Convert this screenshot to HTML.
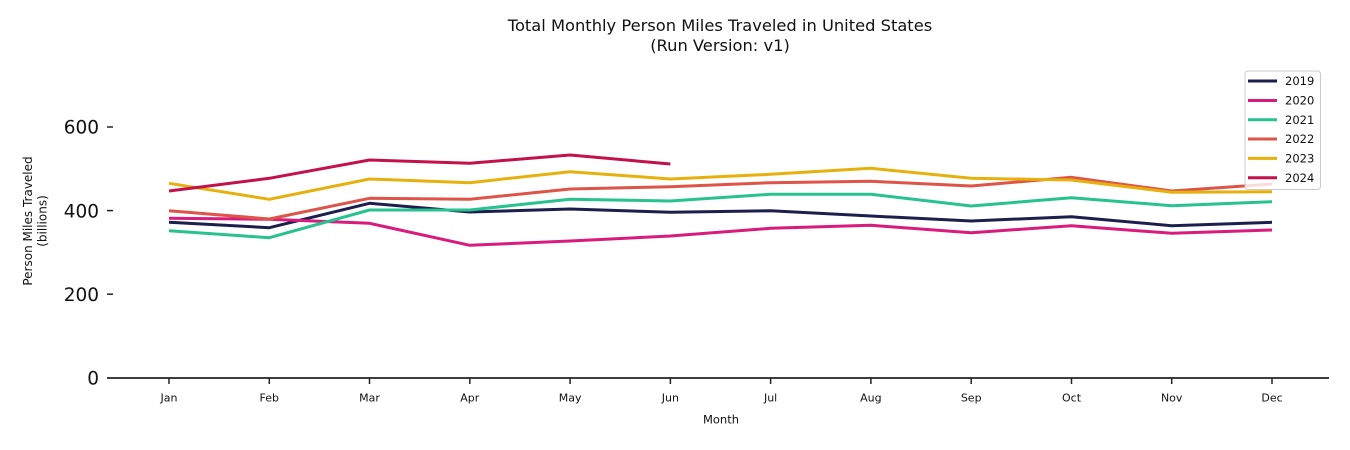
<!DOCTYPE html>
<html>
<head>
<meta charset="utf-8">
<style>
  html, body { margin: 0; padding: 0; background: #ffffff; }
  svg { display: block; }
  text { font-family: "DejaVu Sans", "Liberation Sans", sans-serif; fill: #111; }
</style>
</head>
<body>
<svg width="1350" height="450" viewBox="0 0 1350 450" xmlns="http://www.w3.org/2000/svg">
  <rect x="0" y="0" width="1350" height="450" fill="#ffffff"/>

  <!-- Title -->
  <text x="720" y="31" font-size="16.3" text-anchor="middle">Total Monthly Person Miles Traveled in United States</text>
  <text x="720" y="51" font-size="16.3" text-anchor="middle">(Run Version: v1)</text>

  <!-- Y axis label -->
  <g transform="translate(32,221) rotate(-90)">
    <text x="0" y="0" font-size="12" text-anchor="middle">Person Miles Traveled</text>
  </g>
  <g transform="translate(46.5,221) rotate(-90)">
    <text x="0" y="0" font-size="12" text-anchor="middle">(billions)</text>
  </g>

  <!-- Y ticks -->
  <g stroke="#222" stroke-width="1.5">
    <line x1="107" y1="127" x2="113" y2="127"/>
    <line x1="107" y1="210.6" x2="113" y2="210.6"/>
    <line x1="107" y1="294.2" x2="113" y2="294.2"/>
  </g>
  <g font-size="18.5" text-anchor="end">
    <text x="99" y="133.7">600</text>
    <text x="99" y="217.3">400</text>
    <text x="99" y="300.9">200</text>
    <text x="99" y="384.4">0</text>
  </g>

  <!-- X axis -->
  <line x1="107" y1="378" x2="1329" y2="378" stroke="#222" stroke-width="1.7"/>
  <g stroke="#222" stroke-width="1.5">
    <line x1="169" y1="378" x2="169" y2="384"/>
    <line x1="269.3" y1="378" x2="269.3" y2="384"/>
    <line x1="369.5" y1="378" x2="369.5" y2="384"/>
    <line x1="469.8" y1="378" x2="469.8" y2="384"/>
    <line x1="570.1" y1="378" x2="570.1" y2="384"/>
    <line x1="670.4" y1="378" x2="670.4" y2="384"/>
    <line x1="770.6" y1="378" x2="770.6" y2="384"/>
    <line x1="870.9" y1="378" x2="870.9" y2="384"/>
    <line x1="971.2" y1="378" x2="971.2" y2="384"/>
    <line x1="1071.5" y1="378" x2="1071.5" y2="384"/>
    <line x1="1171.7" y1="378" x2="1171.7" y2="384"/>
    <line x1="1272" y1="378" x2="1272" y2="384"/>
  </g>
  <g font-size="11" text-anchor="middle">
    <text x="169" y="401.5">Jan</text>
    <text x="269.3" y="401.5">Feb</text>
    <text x="369.5" y="401.5">Mar</text>
    <text x="469.8" y="401.5">Apr</text>
    <text x="570.1" y="401.5">May</text>
    <text x="670.4" y="401.5">Jun</text>
    <text x="770.6" y="401.5">Jul</text>
    <text x="870.9" y="401.5">Aug</text>
    <text x="971.2" y="401.5">Sep</text>
    <text x="1071.5" y="401.5">Oct</text>
    <text x="1171.7" y="401.5">Nov</text>
    <text x="1272" y="401.5">Dec</text>
  </g>
  <text x="721" y="423.5" font-size="11.5" text-anchor="middle">Month</text>

  <!-- Series -->
  <g fill="none" stroke-width="3" stroke-linejoin="round" stroke-linecap="butt">
    <polyline stroke="#1c1f4e" points="169,222.3 269.3,227.7 369.5,203.3 469.8,212 570.1,209 670.4,212.3 770.6,210.7 870.9,216 971.2,221 1071.5,216.7 1171.7,225.7 1272,222.3"/>
    <polyline stroke="#d81b7c" points="169,218.3 269.3,219.3 369.5,223.3 469.8,245.3 570.1,241 670.4,236 770.6,228.3 870.9,225.3 971.2,232.7 1071.5,225.7 1171.7,233.3 1272,230"/>
    <polyline stroke="#27c28f" points="169,230.7 269.3,237.7 369.5,210 469.8,210 570.1,199.3 670.4,201 770.6,194.3 870.9,194.3 971.2,206 1071.5,197.7 1171.7,205.7 1272,201.7"/>
    <polyline stroke="#de5449" points="169,210.7 269.3,219 369.5,198.3 469.8,199.3 570.1,189 670.4,186.7 770.6,182.7 870.9,181.3 971.2,186 1071.5,177.3 1171.7,191 1272,184"/>
    <polyline stroke="#e6b10c" points="169,183.3 269.3,199.3 369.5,179 469.8,182.7 570.1,171.7 670.4,179 770.6,174.3 870.9,168.3 971.2,178.3 1071.5,180 1171.7,192.3 1272,191.7"/>
    <polyline stroke="#c2114b" points="169,191 269.3,178.3 369.5,160 469.8,163.3 570.1,155 670.4,164"/>
  </g>

  <!-- Legend -->
  <rect x="1245" y="71" width="75.5" height="118.5" rx="3" ry="3" fill="#ffffff" fill-opacity="0.8" stroke="#cccccc" stroke-width="1"/>
  <g stroke-width="3">
    <line x1="1248" y1="81" x2="1277" y2="81" stroke="#1c1f4e"/>
    <line x1="1248" y1="100.5" x2="1277" y2="100.5" stroke="#d81b7c"/>
    <line x1="1248" y1="119.8" x2="1277" y2="119.8" stroke="#27c28f"/>
    <line x1="1248" y1="139" x2="1277" y2="139" stroke="#de5449"/>
    <line x1="1248" y1="158.4" x2="1277" y2="158.4" stroke="#e6b10c"/>
    <line x1="1248" y1="177.7" x2="1277" y2="177.7" stroke="#c2114b"/>
  </g>
  <g font-size="11.5">
    <text x="1285" y="85.2">2019</text>
    <text x="1285" y="104.7">2020</text>
    <text x="1285" y="124">2021</text>
    <text x="1285" y="143.2">2022</text>
    <text x="1285" y="162.6">2023</text>
    <text x="1285" y="181.9">2024</text>
  </g>
</svg>
</body>
</html>
